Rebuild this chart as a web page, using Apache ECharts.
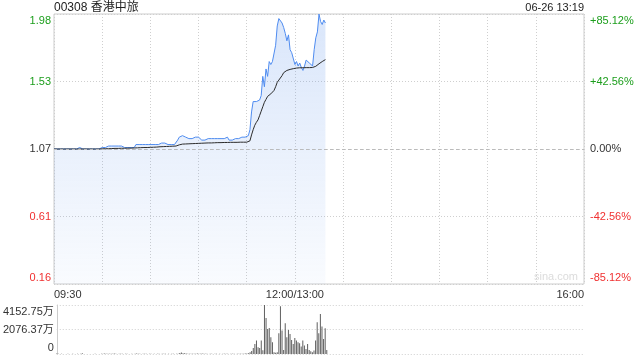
<!DOCTYPE html>
<html><head><meta charset="utf-8">
<script src="https://cdn.jsdelivr.net/npm/echarts@6/dist/echarts.min.js"></script>
<style>html,body{margin:0;padding:0;background:#fff}#c{width:640px;height:360px}</style>
</head><body><div id="c"></div>
<script>
const stockTitle = '00308 香港中旅';
const stampText = '06-26 13:19';
const watermark = 'sina.com';
const prevClose = 1.07;
const rangePct = 85.12;
const volMax = 4152.75;
const sessionMinutes = 330;
const timeLabels = {0: '09:30', 150: '12:00/13:00', 330: '16:00'};

const price = [
1.07,1.07,1.07,1.07,1.07,1.07,1.07,1.07,1.07,1.07,
1.07,1.07,1.07,1.07,1.07,1.07,1.08,1.08,1.07,1.07,
1.07,1.07,1.07,1.07,1.07,1.07,1.07,1.07,1.07,1.07,
1.08,1.08,1.08,1.09,1.09,1.09,1.09,1.09,1.09,1.09,
1.09,1.09,1.09,1.08,1.08,1.08,1.08,1.08,1.08,1.08,
1.08,1.10,1.10,1.10,1.10,1.10,1.10,1.10,1.10,1.10,
1.10,1.10,1.10,1.10,1.10,1.10,1.10,1.11,1.11,1.11,
1.11,1.10,1.10,1.10,1.10,1.10,1.10,1.13,1.15,1.16,
1.16,1.16,1.15,1.14,1.14,1.14,1.14,1.15,1.15,1.15,
1.15,1.16,1.13,1.13,1.13,1.14,1.14,1.14,1.14,1.14,
1.14,1.14,1.14,1.14,1.14,1.14,1.14,1.15,1.15,1.13,
1.13,1.13,1.14,1.14,1.14,1.14,1.14,1.15,1.15,1.15,
1.15,1.16,1.20,1.32,1.39,1.39,1.39,1.39,1.40,1.43,
1.56,1.49,1.61,1.56,1.66,1.64,1.66,1.66,1.77,1.90,
1.95,1.95,1.92,1.89,1.85,1.80,1.84,1.74,1.72,1.73,
1.64,1.66,1.63,1.65,1.62,1.60,1.63,1.67,1.66,1.65,
1.64,1.63,1.74,1.82,1.86,1.98,1.93,1.91,1.94,1.92
];

const avgPrice = [
1.070,1.070,1.070,1.070,1.070,1.070,1.070,1.070,1.070,1.070,
1.070,1.070,1.070,1.070,1.070,1.070,1.070,1.070,1.070,1.070,
1.070,1.070,1.070,1.070,1.070,1.070,1.070,1.070,1.070,1.070,
1.071,1.071,1.072,1.072,1.072,1.073,1.073,1.073,1.074,1.074,
1.074,1.075,1.075,1.075,1.075,1.075,1.076,1.076,1.076,1.076,
1.077,1.077,1.078,1.078,1.079,1.079,1.080,1.080,1.080,1.081,
1.081,1.082,1.082,1.083,1.083,1.084,1.085,1.085,1.086,1.086,
1.087,1.087,1.088,1.088,1.089,1.089,1.090,1.094,1.098,1.101,
1.103,1.104,1.104,1.105,1.105,1.106,1.106,1.107,1.107,1.108,
1.108,1.109,1.109,1.110,1.110,1.110,1.111,1.111,1.111,1.112,
1.112,1.112,1.113,1.113,1.113,1.113,1.114,1.114,1.114,1.114,
1.115,1.115,1.115,1.115,1.115,1.115,1.116,1.116,1.116,1.116,
1.116,1.117,1.125,1.165,1.200,1.230,1.250,1.266,1.295,1.325,
1.355,1.385,1.405,1.425,1.435,1.442,1.450,1.465,1.490,1.520,
1.535,1.545,1.565,1.585,1.595,1.600,1.604,1.607,1.610,1.612,
1.614,1.616,1.617,1.618,1.618,1.618,1.619,1.619,1.619,1.619,
1.620,1.620,1.623,1.628,1.636,1.645,1.653,1.660,1.668,1.673
];

// volume in 万
const volume = [
45,12,8,20,5,10,0,15,6,3,
12,0,8,25,4,30,60,10,5,8,
0,6,10,4,12,0,8,5,15,20,
40,25,18,30,12,22,35,15,10,28,
20,12,8,16,25,10,6,14,9,30,
45,20,15,10,25,18,12,8,22,14,
10,16,8,20,12,6,18,30,22,10,
14,8,12,20,10,16,25,90,120,70,
60,35,20,15,25,30,18,22,40,15,
20,35,25,12,18,10,22,15,8,12,
16,10,14,8,20,12,18,25,10,15,
12,20,8,14,18,25,30,22,40,35,
60,150,250,508,847,1136,568,508,1136,314,
4152.75,3051,2119,2204,1415,992,144,100,144,1754,
4043,1983,339,2602,1415,2034,1695,1187,847,1356,
1136,992,907,627,1136,712,424,847,339,229,
144,288,1136,2687,1754,3390,2322,1271,2178,339
];

const GREEN = '#1c9e1c', RED = '#f03030', DARK = '#333';
const FONT = '"Liberation Sans", Arial, "Noto Sans CJK SC", sans-serif';
const pct = p => (p / prevClose - 1) * 100;
const priceData = price.map((p, i) => [i, pct(p)]);
const avgData = avgPrice.map((p, i) => [i, pct(p)]);
const volData = volume.map((v, i) => [i, v]);

const richBase = {
  tg: {color: GREEN, padding: [13, 0, 0, 0], fontSize: 11, fontFamily: FONT},
  mg: {color: GREEN, fontSize: 11, fontFamily: FONT},
  k: {color: DARK, fontSize: 11, fontFamily: FONT},
  mr: {color: RED, fontSize: 11, fontFamily: FONT},
  br: {color: RED, padding: [0, 0, 13, 0], fontSize: 11, fontFamily: FONT},
  tk: {color: DARK, padding: [13, 0, 0, 0], fontSize: 11, fontFamily: FONT},
  bk: {color: DARK, padding: [0, 0, 13, 0], fontSize: 11, fontFamily: FONT}
};
function styleKey(v) {
  if (Math.abs(v - rangePct) < 1e-6) return 'tg';
  if (Math.abs(v + rangePct) < 1e-6) return 'br';
  if (v > 1e-9) return 'mg';
  if (v < -1e-9) return 'mr';
  return 'k';
}

const dotted = {color: '#cfcfcf', type: [1, 2], width: 1};

const chart = echarts.init(document.getElementById('c'));
chart.setOption({
  animation: false,
  textStyle: {fontFamily: FONT},
  title: [
    {text: stockTitle, left: 54, top: 2, padding: 0,
     textStyle: {fontSize: 12, fontWeight: 'normal', color: '#222', fontFamily: FONT}},
    {text: stampText, right: 56, top: 2, padding: 0,
     textStyle: {fontSize: 11, fontWeight: 'normal', color: '#222', fontFamily: FONT}}
  ],
  graphic: [
    {type: 'text', right: 62, top: 271, silent: true,
     style: {text: watermark, fill: '#dcdcdc', font: '11px ' + FONT}}
  ],
  grid: [
    {left: 54, right: 56, top: 14, height: 270, show: true, borderColor: '#cccccc', borderWidth: 1, backgroundColor: 'transparent'},
    {left: 54, right: 56, top: 305, height: 49}
  ],
  xAxis: [
    {type: 'value', gridIndex: 0, min: 0, max: sessionMinutes, interval: 30,
     axisLine: {show: false}, axisTick: {show: false},
     splitLine: {show: true, lineStyle: dotted},
     axisLabel: {show: true, margin: 5, color: DARK, fontSize: 11, fontFamily: FONT,
       alignMinLabel: 'left', alignMaxLabel: 'right',
       formatter: v => timeLabels[v] || ''}},
    {type: 'value', gridIndex: 1, min: 0, max: sessionMinutes,
     axisLine: {show: false}, axisTick: {show: false}, axisLabel: {show: false},
     splitLine: {show: false}}
  ],
  yAxis: [
    {type: 'value', gridIndex: 0, position: 'left', min: -rangePct, max: rangePct, interval: rangePct / 2,
     axisLine: {show: false}, axisTick: {show: false},
     splitLine: {show: true, lineStyle: dotted},
     axisLabel: {margin: 3, rich: richBase,
       formatter: v => '{' + styleKey(v) + '|' + (prevClose * (1 + v / 100)).toFixed(2) + '}'}},
    {type: 'value', gridIndex: 0, position: 'right', min: -rangePct, max: rangePct, interval: rangePct / 2,
     axisLine: {show: false}, axisTick: {show: false}, splitLine: {show: false},
     axisLabel: {margin: 6, rich: richBase,
       formatter: v => {
         const s = (v > 1e-9 ? '+' : '') + (Math.abs(v) < 1e-9 ? 0 : v).toFixed(2) + '%';
         return '{' + styleKey(v) + '|' + s + '}';
       }}},
    {type: 'value', gridIndex: 1, min: 0, max: volMax, interval: volMax / 2,
     axisLine: {show: true, lineStyle: {color: '#cccccc'}}, axisTick: {show: false},
     splitLine: {show: true, lineStyle: dotted},
     axisLabel: {margin: 3, rich: richBase,
       formatter: v => {
         if (v < 1e-9) return '{bk|0}';
         const s = (Math.floor(v * 100 + 1e-6) / 100).toFixed(2) + '万';
         return (Math.abs(v - volMax) < 1e-6 ? '{tk|' : '{k|') + s + '}';
       }}}
  ],
  series: [
    {type: 'line', xAxisIndex: 0, yAxisIndex: 0, data: priceData, showSymbol: false,
     lineStyle: {color: '#4f8cf0', width: 1}, itemStyle: {color: '#4f8cf0'},
     areaStyle: {origin: 'start', color: new echarts.graphic.LinearGradient(0, 0, 0, 1, [
       {offset: 0, color: 'rgba(90,145,235,0.32)'},
       {offset: 1, color: 'rgba(90,145,235,0.05)'}])},
     markLine: {silent: true, symbol: ['none', 'none'], label: {show: false},
       lineStyle: {color: '#bbbbbb', type: [3, 3], width: 1},
       data: [{yAxis: 0}]}},
    {type: 'line', xAxisIndex: 0, yAxisIndex: 0, data: avgData, showSymbol: false,
     lineStyle: {color: '#2b2b2b', width: 1}, itemStyle: {color: '#2b2b2b'}},
    {type: 'bar', xAxisIndex: 1, yAxisIndex: 2, data: volData, barWidth: 1,
     itemStyle: {color: '#5f5f5f'}}
  ]
});
</script>
</body></html>
